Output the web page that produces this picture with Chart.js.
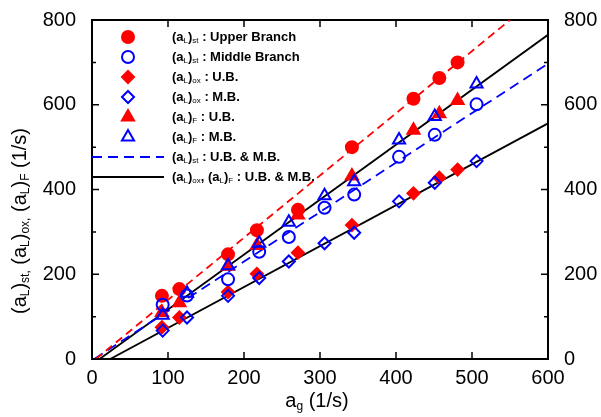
<!DOCTYPE html>
<html lang="en">
<head>
    <meta charset="UTF-8">
    <title>Stretch rate chart</title>
    <style>
        body { margin: 0; background: #fff; }
        #chart { display: block; }
    </style>
</head>
<body>
    <canvas id="chart" width="601" height="417"></canvas>

    <script src="https://cdn.jsdelivr.net/npm/chart.js"></script>
    <script>
        // upper branch (red) strain rates
        const ubAg = [92, 115, 179, 217, 271, 342, 423, 457, 481];
        const ubSt = [149, 165, 247, 304, 352, 500, 614, 663, 700];
        const ubOx = [75, 98, 158, 201, 251, 316, 391, 428, 447];
        const ubF  = [110, 133, 219, 268, 340, 432, 540, 579, 610];

        // middle branch (blue)
        const mbAg = [93, 125, 179, 220, 259, 306, 345, 404, 451, 506];
        const mbSt = [128, 150, 188, 253, 288, 357, 388, 477, 529, 601];
        const mbOx = [67, 98, 149, 191, 230, 273, 298, 372, 416, 467];
        const mbF  = [103, 155, 220, 273, 323, 385, 418, 517, 572, 649];

        // fitted lines, [ag, aL] end points
        const fitStUB = [[5, 0], [550, 800]];
        const fitStMB = [[3, 0], [600, 697]];
        const fitF = [[10, 0], [600, 765]];
        const fitOx = [[24, 0], [600, 556]];

        const xTicks = [0, 100, 200, 300, 400, 500, 600];
        const yTicks = [0, 100, 200, 300, 400, 500, 600, 700, 800];

        const RED = '#ff0000';
        const BLUE = '#0000ff';

        function pts(xs, ys) {
            return xs.map((x, i) => ({ x: x, y: ys[i] }));
        }
        function linePts(arr) {
            return arr.map(p => ({ x: p[0], y: p[1] }));
        }

        function marker(color, style, filled) {
            return {
                showLine: false,
                pointStyle: style,
                pointRadius: style === 'triangle' ? 7 : 6,
                pointBorderWidth: 2,
                borderColor: color,
                backgroundColor: filled ? color : 'rgba(0,0,0,0)',
                pointBackgroundColor: filled ? color : 'rgba(0,0,0,0)',
                pointBorderColor: color
            };
        }
        function fitLine(color, dash) {
            return {
                showLine: true,
                pointRadius: 0,
                borderColor: color,
                borderWidth: 1.8,
                borderDash: dash,
                fill: false
            };
        }

        // draw text with subscripts: parts = [[text, isSub], ...]
        function drawRich(ctx, x, y, parts, size, weight) {
            let cx = x;
            parts.forEach(p => {
                const sub = p[1];
                ctx.font = (sub ? 'normal ' : weight + ' ') + (sub ? Math.round(size * 0.6) : size) + 'px Arial, "Liberation Sans", sans-serif';
                ctx.fillText(p[0], cx, sub ? y + size * 0.3 : y);
                cx += ctx.measureText(p[0]).width;
            });
            return cx - x;
        }
        function richWidth(ctx, parts, size, weight) {
            let w = 0;
            parts.forEach(p => {
                ctx.font = (p[1] ? 'normal ' : weight + ' ') + (p[1] ? Math.round(size * 0.6) : size) + 'px Arial, "Liberation Sans", sans-serif';
                w += ctx.measureText(p[0]).width;
            });
            return w;
        }

        const legendRows = [
            { kind: 'point', color: RED, style: 'circle', filled: true, text: [['(a', 0], ['L', 1], [')', 0], ['st', 1], [' : Upper Branch', 0]] },
            { kind: 'point', color: BLUE, style: 'circle', filled: false, text: [['(a', 0], ['L', 1], [')', 0], ['st', 1], [' : Middle Branch', 0]] },
            { kind: 'point', color: RED, style: 'rectRot', filled: true, text: [['(a', 0], ['L', 1], [')', 0], ['ox', 1], [' : U.B.', 0]] },
            { kind: 'point', color: BLUE, style: 'rectRot', filled: false, text: [['(a', 0], ['L', 1], [')', 0], ['ox', 1], [' : M.B.', 0]] },
            { kind: 'point', color: RED, style: 'triangle', filled: true, text: [['(a', 0], ['L', 1], [')', 0], ['F', 1], [' : U.B.', 0]] },
            { kind: 'point', color: BLUE, style: 'triangle', filled: false, text: [['(a', 0], ['L', 1], [')', 0], ['F', 1], [' : M.B.', 0]] },
            { kind: 'line', color: BLUE, dash: [10, 6], text: [['(a', 0], ['L', 1], [')', 0], ['st', 1], [' : U.B. & M.B.', 0]] },
            { kind: 'line', color: '#000', dash: [], text: [['(a', 0], ['L', 1], [')', 0], ['ox', 1], [', (a', 0], ['L', 1], [')', 0], ['F', 1], [' : U.B. & M.B.', 0]] }
        ];

        const framePlugin = {
            id: 'frame',
            afterDraw(chart) {
                const ctx = chart.ctx;
                const a = chart.chartArea;
                const xs = chart.scales.x;
                const ys = chart.scales.y;
                ctx.save();

                // inward tick marks on all four sides
                ctx.strokeStyle = '#000';
                ctx.lineWidth = 1.5;
                ctx.beginPath();
                xTicks.forEach(v => {
                    const px = xs.getPixelForValue(v);
                    ctx.moveTo(px, a.bottom); ctx.lineTo(px, a.bottom - 7);
                    ctx.moveTo(px, a.top); ctx.lineTo(px, a.top + 7);
                });
                yTicks.forEach(v => {
                    const py = ys.getPixelForValue(v);
                    const len = v % 200 === 0 ? 7 : 4;
                    ctx.moveTo(a.left, py); ctx.lineTo(a.left + len, py);
                    ctx.moveTo(a.right, py); ctx.lineTo(a.right - len, py);
                });
                ctx.stroke();

                // legend inside plot
                ctx.fillStyle = '#000';
                ctx.textBaseline = 'middle';
                ctx.textAlign = 'left';
                legendRows.forEach((r, i) => {
                    const y = a.top + 17 + i * 20;
                    if (r.kind === 'point') {
                        const opts = {
                            pointStyle: r.style,
                            radius: r.style === 'triangle' ? 7 : 6,
                            borderWidth: 2
                        };
                        ctx.strokeStyle = r.color;
                        ctx.fillStyle = r.filled ? r.color : 'rgba(0,0,0,0)';
                        ctx.lineWidth = 2;
                        Chart.helpers.drawPoint(ctx, opts, a.left + 36, y);
                    } else {
                        ctx.strokeStyle = r.color;
                        ctx.lineWidth = 1.8;
                        ctx.setLineDash(r.dash);
                        ctx.beginPath();
                        ctx.moveTo(a.left, y);
                        ctx.lineTo(a.left + 72, y);
                        ctx.stroke();
                        ctx.setLineDash([]);
                    }
                    ctx.fillStyle = '#000';
                    drawRich(ctx, a.left + 80, y, r.text, 13, 'bold');
                });

                // axis titles
                const xt = [['a', 0], ['g', 1], [' (1/s)', 0]];
                const xw = richWidth(ctx, xt, 20, 'normal');
                drawRich(ctx, 317 - xw / 2, 401, xt, 20, 'normal');

                const yt = [['(a', 0], ['L', 1], [')', 0], ['st,', 1], [' (a', 0], ['L', 1], [')', 0], ['ox,', 1], [' (a', 0], ['L', 1], [')', 0], ['F', 1], [' (1/s)', 0]];
                const yw = richWidth(ctx, yt, 20, 'normal');
                ctx.translate(20, 221);
                ctx.rotate(-Math.PI / 2);
                drawRich(ctx, -yw / 2, 0, yt, 20, 'normal');
                ctx.restore();
            }
        };

        const tickFont = { family: 'Arial, "Liberation Sans", sans-serif', size: 20 };

        new Chart(document.getElementById('chart'), {
            type: 'scatter',
            data: {
                datasets: [
                    Object.assign({ label: 'st MB', data: pts(mbAg, mbSt) }, marker(BLUE, 'circle', false)),
                    Object.assign({ label: 'ox MB', data: pts(mbAg, mbOx) }, marker(BLUE, 'rectRot', false)),
                    Object.assign({ label: 'F MB', data: pts(mbAg, mbF) }, marker(BLUE, 'triangle', false)),
                    Object.assign({ label: 'st UB', data: pts(ubAg, ubSt) }, marker(RED, 'circle', true)),
                    Object.assign({ label: 'ox UB', data: pts(ubAg, ubOx) }, marker(RED, 'rectRot', true)),
                    Object.assign({ label: 'F UB', data: pts(ubAg, ubF) }, marker(RED, 'triangle', true)),
                    Object.assign({ label: 'fit st UB', data: linePts(fitStUB) }, fitLine(RED, [8, 5])),
                    Object.assign({ label: 'fit st MB', data: linePts(fitStMB) }, fitLine(BLUE, [10, 6])),
                    Object.assign({ label: 'fit F', data: linePts(fitF) }, fitLine('#000', [])),
                    Object.assign({ label: 'fit ox', data: linePts(fitOx) }, fitLine('#000', []))
                ]
            },
            options: {
                responsive: false,
                animation: false,
                layout: { padding: 0 },
                plugins: {
                    legend: { display: false },
                    tooltip: { enabled: false }
                },
                scales: {
                    x: {
                        type: 'linear',
                        position: 'bottom',
                        min: 0, max: 600,
                        grid: { display: false },
                        border: { display: true, color: '#000', width: 2 },
                        ticks: { stepSize: 100, color: '#000', font: tickFont, padding: -1, maxRotation: 0 },
                        afterFit(s) { s.height = 58; }
                    },
                    x2: {
                        type: 'linear',
                        position: 'top',
                        min: 0, max: 600,
                        grid: { display: false },
                        border: { display: true, color: '#000', width: 2 },
                        ticks: { display: false },
                        afterFit(s) { s.height = 15; }
                    },
                    y: {
                        type: 'linear',
                        position: 'left',
                        min: 0, max: 800,
                        grid: { display: false },
                        border: { display: true, color: '#000', width: 2 },
                        ticks: {
                            stepSize: 200, color: '#000', font: tickFont, padding: 8
                        },
                        afterFit(s) { s.width = 92; }
                    },
                    y2: {
                        type: 'linear',
                        position: 'right',
                        min: 0, max: 800,
                        grid: { display: false },
                        border: { display: true, color: '#000', width: 2 },
                        ticks: {
                            stepSize: 200, color: '#000', font: tickFont, padding: 8
                        },
                        afterFit(s) { s.width = 53; }
                    }
                }
            },
            plugins: [framePlugin]
        });
    </script>
</body>
</html>
